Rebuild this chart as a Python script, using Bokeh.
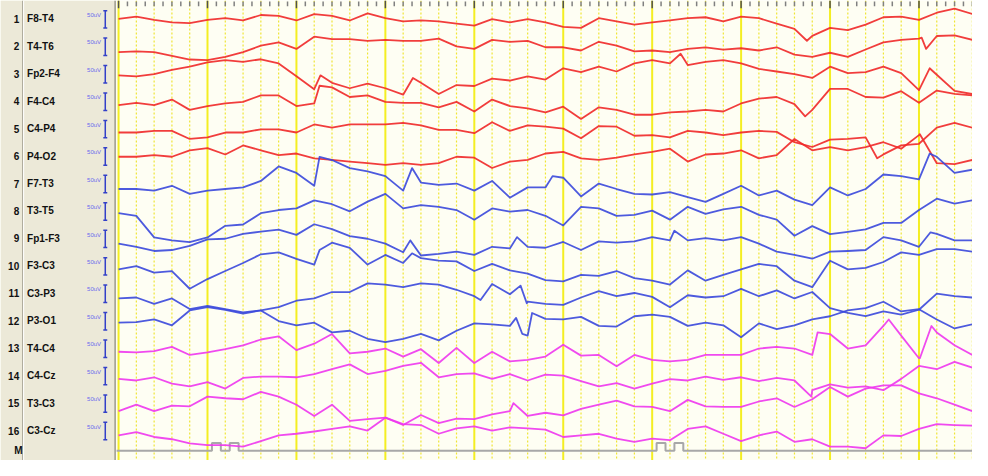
import numpy as np
from bokeh.plotting import figure
from bokeh.models import Range1d
from bokeh.core.properties import value
from bokeh.embed import file_html
from bokeh.resources import INLINE

# ---------------- data ----------------
CHANNELS = ["F8-T4", "T4-T6", "Fp2-F4", "F4-C4", "C4-P4", "P4-O2",
            "F7-T3", "T3-T5", "Fp1-F3", "F3-C3", "C3-P3", "P3-O1",
            "T4-C4", "C4-Cz", "T3-C3", "C3-Cz"]
CAL_TEXT = "50uV"
DT = 0.2          # seconds between regular samples
SECONDS = list(range(0, 10))

# amplitudes in microvolts (positive = up), one sample every DT seconds
CH1 = [9, 16, 6, -2, -4, 6, 11, 4, 21, 18, 4, 24, 18, 4, 26, 11,
       1, 4, 1, -6, -12, 8, -2, 8, -2, -16, -19, 11, 1, -9, -2, 4,
       11, 14, 1, 16, 11, -6, -22, -44, -19, -26, -9, 14, 16, 6, 28, 41, 24]
CH2 = [-9, -7, -9, -21, -32, -34, -24, -9, 11, 21, 1, 39, 31, 31, 26, 29,
       26, 26, 33, 9, 1, 29, 23, 26, 6, 6, -4, 23, 11, -7, -4, -9,
       1, 6, -1, 3, -4, 6, -17, -24, -11, -24, -1, 21, 29, 33, 41, 43, 29]
CH3 = [4, 1, 8, 21, 31, 44, 51, 46, 54, 41, 1, -39, -19, -36, -22, -36,
       -56, -19, -54, -26, -29, -6, -12, 1, -9, 26, 14, 31, 16, 41, 51, 41,
       36, 46, 51, 41, 24, 16, 8, -4, 31, 11, 14, 31, 11, -42, 6, -44, -54]
CH4 = [-3, 4, -3, 14, -18, -6, 2, 7, 27, 27, -6, 2, 52, 22, 27, 7,
       4, 4, -10, 7, -23, 14, -6, -13, -26, -8, -46, -10, -18, -33, -33, -26,
       -23, -18, -23, 2, 17, 22, 0, -18, 47, 47, 22, 20, 40, 4, 42, 32, 27]
CH5 = [-3, -3, 2, 2, -23, -18, -3, -3, 7, 7, -3, 22, 12, 22, 22, 22,
       27, 19, 5, 5, -5, 29, 2, 19, 15, 9, -21, 17, 15, -13, -11, -18,
       2, -3, -11, -3, 2, -1, -33, -48, -25, -23, -18, -71, -43, -38, 12, 27, 12]
CH6 = [7, 7, 12, 7, 27, 34, 14, 42, 27, 12, 17, 2, -3, -8, -13, -18,
       -13, -18, -13, 7, 4, -28, -8, -3, 17, 22, 2, -3, 4, 14, 22, 32,
       -8, 14, 17, 27, 2, 12, 62, 27, 37, 27, 37, 52, 32, 74, -13, -16, -3]
CH7 = [-8, -8, -13, 2, -23, -13, -8, -3, 17, 62, 42, 2, 82, 57, 47, 32,
       -13, 12, 5, 9, -13, 17, -35, -3, -3, 27, -31, 9, -8, -23, -25, -18,
       -33, -48, -23, 2, -28, -13, -41, -58, -3, -28, -8, 37, 32, 22, 92, 42, 52]
CH8 = [2, -6, -73, -82, -88, -73, -37, -33, 2, 12, 17, 42, 30, 8, 38, 62,
       17, 27, 22, 12, -18, 17, 7, 12, -6, -36, 22, 17, -6, -3, 10, -18,
       22, 0, 14, 22, -3, -18, -68, -38, -63, -56, -48, -28, -28, 12, 47, 32, 42]
CH9 = [-7, -17, -30, -27, -14, 6, 8, 23, 30, 36, 20, 53, 38, 16, 8, -7,
       -34, -44, -39, -32, -42, -17, -22, -17, -20, -2, -27, 0, -4, 0, 13, 3,
       3, 10, 3, 13, -7, -32, -42, -54, -32, -30, -27, 13, 3, -17, 23, 3, 3]
CH10 = [-2, 8, -12, -7, -62, -32, -7, 18, 45, 51, 31, 13, 81, 65, 13, 43,
        18, 33, 25, 23, -7, 15, -5, -15, -35, -39, -19, -22, -7, -29, -37, -49,
        -5, -37, -19, -2, 15, 8, -37, -57, 25, -2, 3, 21, 51, 43, 61, 61, 53]
CH11 = [-7, -4, -24, -7, -40, -30, -40, -50, -44, -34, -14, -7, 13, 13, 40, 36,
        28, 40, 36, 20, 0, 38, 6, -17, -24, -27, -4, 16, 0, 10, -2, -34,
        3, -4, 0, 23, 0, 18, -7, 13, -37, -52, -62, -47, -57, -42, 8, 0, -4]
CH12 = [3, 5, 13, -5, 41, 51, 43, 31, 41, 8, -5, 3, -27, -22, -47, -57,
        -47, -32, -52, -22, 1, -2, -7, -37, 15, 13, 21, -7, -9, 23, 28, 21,
        -7, 3, -5, -42, 1, -17, -5, 13, 23, 41, 48, 68, 38, 45, 13, -15, -2]
CH13 = [-2, -4, 0, 13, -12, -4, 6, 18, 36, 46, 3, 23, 53, -7, -2, 8,
        -17, 6, -37, 10, -37, -2, -32, -27, -17, 20, -14, -12, -47, -12, -27, -32,
        -27, -12, -12, -12, 8, 13, 8, -12, 53, 8, 18, 78, 48, -22, 58, 18, -12]
CH14 = [-1, -6, 4, -16, -24, -11, -31, 2, 6, 6, 4, 14, 29, 44, 14, 24,
        39, 49, 4, 14, 16, -1, 14, -6, 12, 9, -8, -24, -14, -31, -16, -2,
        -6, 6, -4, 4, -8, 2, -6, -36, -18, -28, -24, -36, -1, 39, 29, 52, 34]
CH15 = [-16, 4, -16, 1, -1, 29, 24, 21, 44, 29, 4, -31, 4, -46, -41, -36,
        -59, -28, -53, -39, -41, -26, -16, -31, -21, -29, -9, 4, 17, -1, -3, -16,
        19, -1, -3, -3, 14, 24, -3, 21, 59, 29, 54, 64, 64, 39, 24, 4, -16]
CH16 = [-6, 4, -11, -18, -31, -36, -36, -41, -24, -6, -1, 6, 14, 22, 9, 49,
        29, 26, -1, 16, 22, 9, 19, 16, 12, -11, -6, -1, -16, -26, -16, -21,
        14, 22, -1, -24, -6, 6, -26, -18, -41, -41, -46, -6, -8, 14, 29, 26, 24]

SIGNALS = [CH1, CH2, CH3, CH4, CH5, CH6, CH7, CH8,
           CH9, CH10, CH11, CH12, CH13, CH14, CH15, CH16]

# extra samples read at sharp transients: channel index -> [(seconds, microvolts)]
TRANSIENTS = {
    0: [(7.74, -59)],
    1: [(9.03, 36), (9.08, 1)],
    2: [(2.27, 4), (3.31, -4), (6.32, 71), (9.12, 26)],
    3: [(2.26, 57), (7.72, -38)],
    4: [(8.53, -83)],
    5: [(9.01, 77)],
    6: [(2.26, 92), (3.30, 57), (4.88, 32), (9.12, 102)],
    8: [(3.28, 3), (4.48, 13), (6.25, 33), (9.13, 28)],
    9: [(2.26, 58), (3.30, 48)],
    10: [(4.07, -12), (4.52, 33), (4.59, -22)],
    11: [(4.47, 18), (4.54, -32), (4.65, 33)],
    12: [(7.86, 58), (8.66, 98), (9.01, -22), (9.14, 78)],
    13: [(7.79, -56)],
    14: [(4.44, 9)],
}

# event marker channel (seconds)
MARK_ON = [1.05, 1.25, 6.05, 6.25]
MARK_OFF = [1.15, 1.35, 6.15, 6.35]
MARK_LEVEL = 24  # microvolts (marker height)

# ---------------- styles / layout ----------------
GROUP_COLORS = ["#F02828"] * 6 + ["#3A48DC"] * 6 + ["#EE36EE"] * 4
PANEL_BG = "#ECE9D8"
PLOT_BG = "#FEFEF3"

W, H = 972, 460
def X(px):  # horizontal layout helper (reference pixel -> seconds)
    return (px - 120.0) / 90.4
def Y(py):  # vertical layout helper (reference pixel -> microvolt axis)
    return -3.0 * py

p = figure(width=W, height=H, output_backend="svg", toolbar_location=None,
           x_range=Range1d(X(0), X(988)), y_range=Range1d(Y(476), Y(0)),
           min_border=0)
p.axis.visible = False
p.grid.visible = False
p.outline_line_color = None
p.background_fill_color = PLOT_BG
p.border_fill_color = PANEL_BG

# grid: dotted every 0.2 s, solid every second
dots = [round(s * DT, 2) for s in range(1, 49) if (s % 5) != 0]
p.segment(x0=dots, x1=dots, y0=[Y(0)] * len(dots), y1=[Y(476)] * len(dots),
          line_color="#EFE535", line_width=1.2, line_dash="2 2")
p.segment(x0=SECONDS, x1=SECONDS, y0=[Y(0)] * len(SECONDS), y1=[Y(476)] * len(SECONDS),
          line_color="#F4EE22", line_width=2)

# top time ruler
minor = [round(i * 0.1, 2) for i in range(1, 97) if i % 10 != 0]
p.segment(x0=minor, x1=minor, y0=[Y(1)] * len(minor), y1=[Y(6)] * len(minor),
          line_color="#808080", line_width=1.5)
p.segment(x0=SECONDS, x1=SECONDS, y0=[Y(0)] * len(SECONDS), y1=[Y(8)] * len(SECONDS),
          line_color="#505050", line_width=1.5)

# marker channel
mx = [X(118)]
my = [0.0]
for a, b in zip(MARK_ON, MARK_OFF):
    mx += [a, a, b, b]
    my += [0.0, MARK_LEVEL, MARK_LEVEL, 0.0]
mx.append(X(988))
my.append(0.0)
m_base = Y(466)
p.line(mx, [m_base + v for v in my], line_color="#A8A8A8", line_width=2)

# EEG traces
for k, sig in enumerate(SIGNALS):
    base = Y(22 + 28.4 * k)
    t = list(np.round(np.arange(len(sig)) * DT, 3))
    v = list(sig)
    for (tt, vv) in TRANSIENTS.get(k, []):
        t.append(tt)
        v.append(vv)
    order = np.argsort(t, kind="stable")
    t = np.asarray(t, dtype=float)[order]
    v = np.asarray(v, dtype=float)[order]
    p.line(t, base + v, line_color=GROUP_COLORS[k],
           line_width=1.8, line_alpha=0.9, line_join="round")

# left panel
p.quad(left=[X(0)], right=[X(117)], bottom=[Y(476)], top=[Y(0)],
       fill_color=PANEL_BG, line_color=None)
p.segment(x0=[X(22.5)], x1=[X(22.5)], y0=[Y(0)], y1=[Y(476)],
          line_color="#A7A496", line_width=1)
p.segment(x0=[X(23.5)], x1=[X(23.5)], y0=[Y(0)], y1=[Y(476)],
          line_color="#FFFFFF", line_width=1)
p.segment(x0=[X(116.5)], x1=[X(116.5)], y0=[Y(0)], y1=[Y(476)],
          line_color="#9C9A8E", line_width=1.5)

label_y = [Y(19 + 28.4 * k) for k in range(len(CHANNELS))]
p.text(x=[X(19)] * len(CHANNELS), y=label_y, text=[str(k + 1) for k in range(len(CHANNELS))],
       text_font=value("Liberation Sans"), text_font_style="bold", text_font_size="10px",
       text_align="right", text_baseline="middle", text_color="#111111")
p.text(x=[X(27)] * len(CHANNELS), y=label_y, text=CHANNELS,
       text_font=value("Liberation Sans"), text_font_style="bold", text_font_size="10px",
       text_align="left", text_baseline="middle", text_color="#111111")
p.text(x=[X(14)], y=[Y(466)], text=["M"],
       text_font=value("Liberation Sans"), text_font_style="bold", text_font_size="10px",
       text_align="left", text_baseline="middle", text_color="#111111")
p.text(x=[X(88)] * len(CHANNELS), y=[Y(15 + 28.4 * k) for k in range(len(CHANNELS))],
       text=[CAL_TEXT] * len(CHANNELS),
       text_font=value("Liberation Sans"), text_font_size="6px",
       text_align="left", text_baseline="middle", text_color="#6A6AEE")

# calibration bars
bx = X(106.5)
n = len(CHANNELS)
top_y = [Y(10.5 + 28.4 * k) for k in range(n)]
bot_y = [Y(28.5 + 28.4 * k) for k in range(n)]
p.segment(x0=[bx] * n, x1=[bx] * n, y0=top_y, y1=bot_y, line_color="#3340C8", line_width=1.5)
p.segment(x0=[X(104.5)] * n, x1=[X(108.5)] * n, y0=top_y, y1=top_y, line_color="#3340C8", line_width=1.5)
p.segment(x0=[X(104.5)] * n, x1=[X(108.5)] * n, y0=bot_y, y1=bot_y, line_color="#3340C8", line_width=1.5)

open("out.html", "w").write(file_html(p, INLINE))
